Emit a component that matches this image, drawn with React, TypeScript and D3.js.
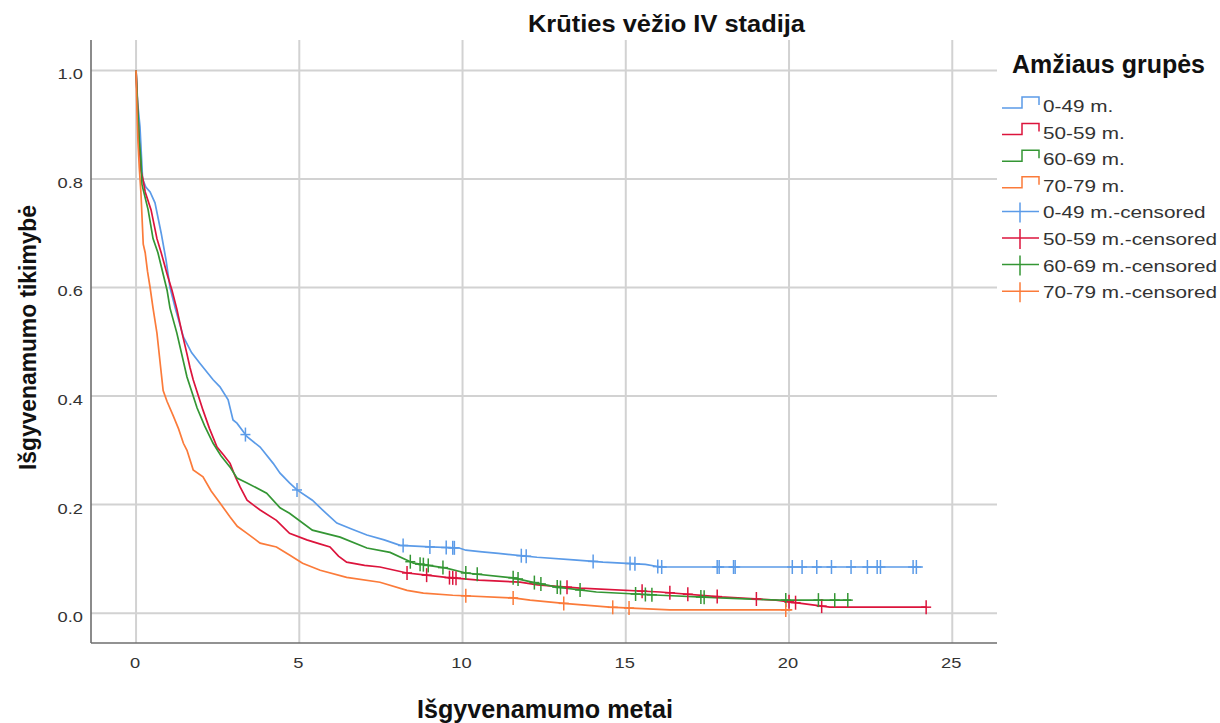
import React from "react";
import * as d3 from "d3";

const xTicks = [0, 5, 10, 15, 20, 25];
const yTicks = [0.0, 0.2, 0.4, 0.6, 0.8, 1.0];

const groupNames = ["0-49 m.", "50-59 m.", "60-69 m.", "70-79 m."];
const groupColors = ["#5b9be8", "#dc143c", "#349634", "#fb7b3a"];

const blueT = [0, 0.05, 0.12, 0.2, 0.3, 0.43, 0.58, 0.77, 0.92, 1.04, 1.2, 1.45, 1.7, 1.96, 2.36, 2.57, 2.82, 2.97, 3.09, 3.4, 3.8, 4.2, 4.41, 4.7, 4.93, 5.4, 5.8, 6.15, 6.6, 7.07, 7.6, 8.09, 9.0, 9.9, 10.1, 10.6, 11.1, 12.28, 13.4, 14.3, 15.6, 16.05, 24.1];
const blueS = [1.0, 0.94, 0.896, 0.8, 0.785, 0.776, 0.756, 0.7, 0.65, 0.6, 0.562, 0.509, 0.48, 0.46, 0.43, 0.417, 0.393, 0.356, 0.35, 0.325, 0.306, 0.276, 0.258, 0.24, 0.227, 0.208, 0.185, 0.166, 0.155, 0.144, 0.135, 0.125, 0.122, 0.12, 0.116, 0.113, 0.11, 0.103, 0.098, 0.094, 0.09, 0.085, 0.085];

const redT = [0, 0.05, 0.1, 0.15, 0.21, 0.28, 0.46, 0.64, 0.77, 0.95, 1.1, 1.25, 1.41, 1.55, 1.65, 1.75, 2.05, 2.25, 2.48, 2.7, 2.88, 3.05, 3.19, 3.4, 3.8, 4.3, 4.7, 5.23, 5.6, 5.94, 6.2, 6.45, 7.0, 7.47, 8.3, 8.9, 9.5, 10.5, 11.76, 12.3, 13.6, 16.05, 17.9, 19.6, 21.25, 24.2];
const redS = [1.0, 0.93, 0.86, 0.815, 0.8, 0.776, 0.743, 0.69, 0.664, 0.625, 0.595, 0.56, 0.516, 0.48, 0.453, 0.43, 0.374, 0.34, 0.306, 0.29, 0.276, 0.25, 0.232, 0.208, 0.19, 0.171, 0.147, 0.135, 0.128, 0.122, 0.105, 0.094, 0.088, 0.085, 0.074, 0.07, 0.066, 0.061, 0.057, 0.052, 0.046, 0.039, 0.03, 0.024, 0.011, 0.011];

const greenT = [0, 0.05, 0.1, 0.15, 0.18, 0.37, 0.52, 0.67, 0.95, 1.04, 1.25, 1.56, 1.87, 2.1, 2.36, 2.6, 2.88, 3.09, 3.4, 4.0, 4.41, 4.7, 5.4, 6.25, 7.07, 7.78, 8.5, 9.5, 10.1, 11.55, 12.3, 12.9, 14.1, 16.05, 17.9, 19.7, 21.9];
const greenS = [1.0, 0.93, 0.87, 0.835, 0.79, 0.743, 0.69, 0.664, 0.595, 0.562, 0.516, 0.435, 0.378, 0.345, 0.313, 0.29, 0.269, 0.249, 0.24, 0.221, 0.194, 0.184, 0.153, 0.14, 0.12, 0.112, 0.092, 0.083, 0.074, 0.065, 0.055, 0.048, 0.039, 0.033, 0.028, 0.024, 0.024];

const orangeT = [0, 0.03, 0.06, 0.1, 0.15, 0.22, 0.28, 0.35, 0.43, 0.52, 0.64, 0.74, 0.83, 0.95, 1.13, 1.3, 1.45, 1.56, 1.75, 2.05, 2.3, 2.57, 2.88, 3.1, 3.4, 3.8, 4.3, 4.7, 5.1, 5.64, 6.45, 7.47, 8.3, 8.8, 9.7, 11.55, 12.07, 13.1, 14.5, 16.35, 20.1];
const orangeS = [1.0, 0.92, 0.866, 0.82, 0.774, 0.68, 0.664, 0.63, 0.6, 0.562, 0.516, 0.46, 0.41, 0.39, 0.365, 0.34, 0.313, 0.3, 0.264, 0.251, 0.225, 0.203, 0.177, 0.16, 0.147, 0.129, 0.122, 0.107, 0.092, 0.079, 0.066, 0.057, 0.042, 0.037, 0.033, 0.028, 0.024, 0.018, 0.011, 0.006, 0.006];

const blueCensor = [3.35, 4.93, 8.18, 9.0, 9.5, 9.7, 9.75, 11.8, 11.95, 14.0, 15.13, 15.28, 15.98, 16.1, 17.8, 17.86, 18.3, 18.35, 20.1, 20.4, 20.85, 21.3, 21.9, 22.4, 22.7, 22.8, 23.8, 23.9];
const redCensor = [8.3, 8.9, 9.6, 9.7, 9.8, 13.2, 15.5, 16.35, 16.9, 17.8, 19.0, 20.0, 20.2, 21.0, 24.2];
const greenCensor = [8.4, 8.7, 8.8, 8.95, 9.4, 10.1, 10.45, 11.55, 11.7, 12.2, 12.4, 12.9, 13.0, 13.6, 15.3, 15.6, 15.8, 17.3, 17.4, 19.9, 20.9, 21.4, 21.8];
const orangeCensor = [10.1, 11.55, 13.1, 14.6, 15.1, 19.9];

const series = [
  { t: blueT, s: blueS, c: blueCensor },
  { t: redT, s: redS, c: redCensor },
  { t: greenT, s: greenS, c: greenCensor },
  { t: orangeT, s: orangeS, c: orangeCensor },
];

const W = 1220, H = 723;
const L = 91, R = 997, T = 40, B = 643;
const FONT = "'Liberation Sans', Arial, sans-serif";
const SX = 1.22; // horizontal stretch of the regular-weight texts

function valueAt(ts: number[], ss: number[], t: number) {
  for (let i = 1; i < ts.length; i++) {
    if (ts[i] >= t) {
      const f = (t - ts[i - 1]) / (ts[i] - ts[i - 1]);
      return ss[i - 1] + f * (ss[i] - ss[i - 1]);
    }
  }
  return ss[ss.length - 1];
}

function StretchText(props: { x: number; y: number; anchor?: string; size: number; children: React.ReactNode }) {
  const { x, y, anchor, size, children } = props;
  return (
    <g transform={`translate(${x},${y}) scale(${SX},1)`}>
      <text x={0} y={0} textAnchor={anchor || "start"} fontFamily={FONT} fontSize={size} fill="#333">
        {children}
      </text>
    </g>
  );
}

export default function App() {
  const x = d3.scaleLinear().domain([-1.38, 26.37]).range([L, R]);
  const y = d3.scaleLinear().domain([-0.055, 1.056]).range([B, T]);
  const line = d3
    .line<[number, number]>()
    .x((d) => x(d[0]))
    .y((d) => y(d[1]))
    .curve(d3.curveLinear);

  const legendBase0 = 112, legendDy = 26.6;
  return (
    <svg width={W} height={H} style={{ position: "absolute", left: 0, top: 0, background: "#fff" }}>
      <rect x={0} y={0} width={W} height={H} fill="#fff" />
      {xTicks.map((t) => (
        <line key={"gx" + t} x1={x(t)} x2={x(t)} y1={T} y2={B} stroke="#d2d2d2" strokeWidth={2} />
      ))}
      {yTicks.map((t) => (
        <line key={"gy" + t} x1={L} x2={R} y1={y(t)} y2={y(t)} stroke="#d2d2d2" strokeWidth={2} />
      ))}
      <line x1={L} x2={L} y1={T} y2={B} stroke="#6e6e6e" strokeWidth={1.6} />
      <line x1={L} x2={R} y1={B} y2={B} stroke="#6e6e6e" strokeWidth={1.6} />
      {xTicks.map((t) => (
        <StretchText key={"tx" + t} x={x(t) - 1} y={668} anchor="middle" size={15}>
          {t}
        </StretchText>
      ))}
      {yTicks.map((t) => (
        <StretchText key={"ty" + t} x={83} y={y(t) + 9} anchor="end" size={15}>
          {t.toFixed(1)}
        </StretchText>
      ))}
      {series.map((sr, i) => {
        const pts: [number, number][] = sr.t.map((t, j) => [t, sr.s[j]]);
        return <path key={"l" + i} d={line(pts) || ""} fill="none" stroke={groupColors[i]} strokeWidth={1.7} />;
      })}
      {series.map((sr, i) =>
        sr.c.map((ct, j) => {
          const cx = x(ct);
          const cy = y(valueAt(sr.t, sr.s, ct));
          return (
            <g key={"c" + i + "-" + j} stroke={groupColors[i]} strokeWidth={1.5}>
              <line x1={cx} x2={cx} y1={cy - 7} y2={cy + 7} />
              <line x1={cx - 5} x2={cx + 5} y1={cy} y2={cy} />
            </g>
          );
        })
      )}
      <text x={528} y={32} textLength={277} lengthAdjust="spacingAndGlyphs" fontFamily={FONT} fontSize={23} fontWeight="bold" fill="#111">
        Krūties vėžio IV stadija
      </text>
      <text x={417} y={718} textLength={256} lengthAdjust="spacingAndGlyphs" fontFamily={FONT} fontSize={25} fontWeight="bold" fill="#111">
        Išgyvenamumo metai
      </text>
      <text
        transform={`translate(36,${470}) rotate(-90)`}
        textLength={265}
        lengthAdjust="spacingAndGlyphs"
        fontFamily={FONT}
        fontSize={23}
        fontWeight="bold"
        fill="#111"
      >
        Išgyvenamumo tikimybė
      </text>
      <text x={1012} y={73} textLength={193} lengthAdjust="spacingAndGlyphs" fontFamily={FONT} fontSize={25} fontWeight="bold" fill="#111">
        Amžiaus grupės
      </text>
      {groupNames.map((g, i) => {
        const bl = legendBase0 + i * legendDy;
        return (
          <g key={"lg" + i}>
            <path d={`M1002,${bl - 4}H1022V${bl - 15}H1039V${bl - 7}`} fill="none" stroke={groupColors[i]} strokeWidth={1.5} />
            <StretchText x={1043} y={bl} size={17}>
              {g}
            </StretchText>
          </g>
        );
      })}
      {groupNames.map((g, i) => {
        const bl = legendBase0 + (i + 4) * legendDy;
        return (
          <g key={"lc" + i}>
            <line x1={1002} x2={1039} y1={bl - 7} y2={bl - 7} stroke={groupColors[i]} strokeWidth={1.5} />
            <line x1={1020} x2={1020} y1={bl - 16} y2={bl + 4} stroke={groupColors[i]} strokeWidth={1.5} />
            <StretchText x={1043} y={bl} size={17}>
              {g + "-censored"}
            </StretchText>
          </g>
        );
      })}
    </svg>
  );
}
